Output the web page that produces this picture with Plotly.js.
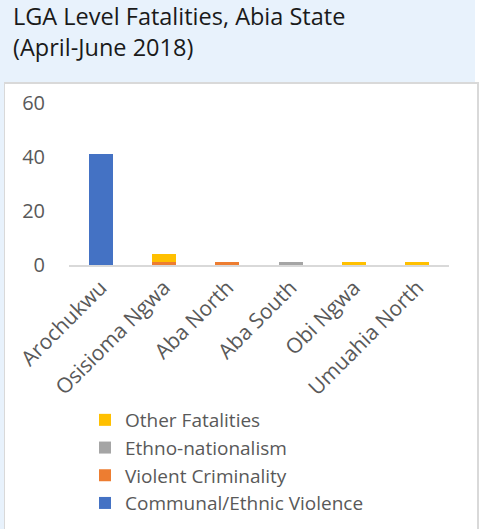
<!DOCTYPE html>
<html>
<head>
<meta charset="utf-8">
<script src="https://cdn.plot.ly/plotly-3.0.1.min.js"></script>
<style>
html, body { margin:0; padding:0; width:482px; height:529px; overflow:hidden; background:#ffffff; }
#bg { position:absolute; left:0; top:0; width:475px; height:529px; background:#e8f2fc; }
#panel { position:absolute; left:4px; top:82px; width:472px; height:446px; background:#ffffff; border:1px solid #d9d9d9; border-width:2px 2px 1px 1px; }
#chart { position:absolute; left:0; top:0; width:482px; height:529px; }
</style>
</head>
<body>
<div id="bg"></div>
<div id="panel"></div>
<div id="chart"></div>
<script>
const categories = ["Arochukwu", "Osisioma Ngwa", "Aba North", "Aba South", "Obi Ngwa", "Umuahia North"];
const communalEthnic = [41, 0, 0, 0, 0, 0];
const violentCriminality = [0, 1, 1, 0, 0, 0];
const ethnoNationalism = [0, 0, 0, 1, 0, 0];
const otherFatalities = [0, 3, 0, 0, 1, 1];
const yTicks = [0, 20, 40, 60];

const FONT = "'Open Sans', Lato, sans-serif";
const traces = [
  {name: "Communal/Ethnic Violence", y: communalEthnic, color: "#4472c4"},
  {name: "Violent Criminality", y: violentCriminality, color: "#ed7d31"},
  {name: "Ethno-nationalism", y: ethnoNationalism, color: "#a5a5a5"},
  {name: "Other Fatalities", y: otherFatalities, color: "#ffc000"}
].map(t => ({
  type: "bar", name: t.name, x: categories, y: t.y,
  marker: {color: t.color}, hoverinfo: "skip"
}));

const layout = {
  width: 482, height: 529,
  paper_bgcolor: "rgba(0,0,0,0)", plot_bgcolor: "rgba(0,0,0,0)",
  margin: {l: 69, r: 33, t: 103, b: 264, autoexpand: false},
  barmode: "stack", bargap: 0.62,
  font: {family: FONT, color: "#595959"},
  title: {
    text: "LGA Level Fatalities, Abia State<br>(April-June 2018)",
    x: 13/482, xref: "container", xanchor: "left",
    y: 1 - 25/529, yref: "container", yanchor: "top",
    font: {family: FONT, size: 23.5, color: "#1a1a1a"}
  },
  xaxis: {
    type: "category", showline: true, linecolor: "#d9d9d9", linewidth: 2,
    ticks: "", tickangle: -45, tickfont: {family: FONT, size: 21, color: "#595959"},
    automargin: false, fixedrange: true
  },
  yaxis: {
    range: [0, 60], tickvals: yTicks, ticktext: yTicks.map(String),
    showgrid: false, zeroline: false, showline: false, ticks: "",
    tickfont: {family: FONT, size: 20, color: "#595959"},
    ticklabelstandoff: 23, automargin: false, fixedrange: true
  },
  legend: {
    traceorder: "reversed", orientation: "v",
    x: (85-69)/380, xanchor: "left", y: 1 - (401-103)/162, yanchor: "top",
    font: {family: FONT, size: 19, color: "#595959"},
    bgcolor: "rgba(0,0,0,0)", itemwidth: 30
  },
  showlegend: true
};

Plotly.newPlot("chart", traces, layout, {displayModeBar: false, staticPlot: true});
</script>
</body>
</html>
